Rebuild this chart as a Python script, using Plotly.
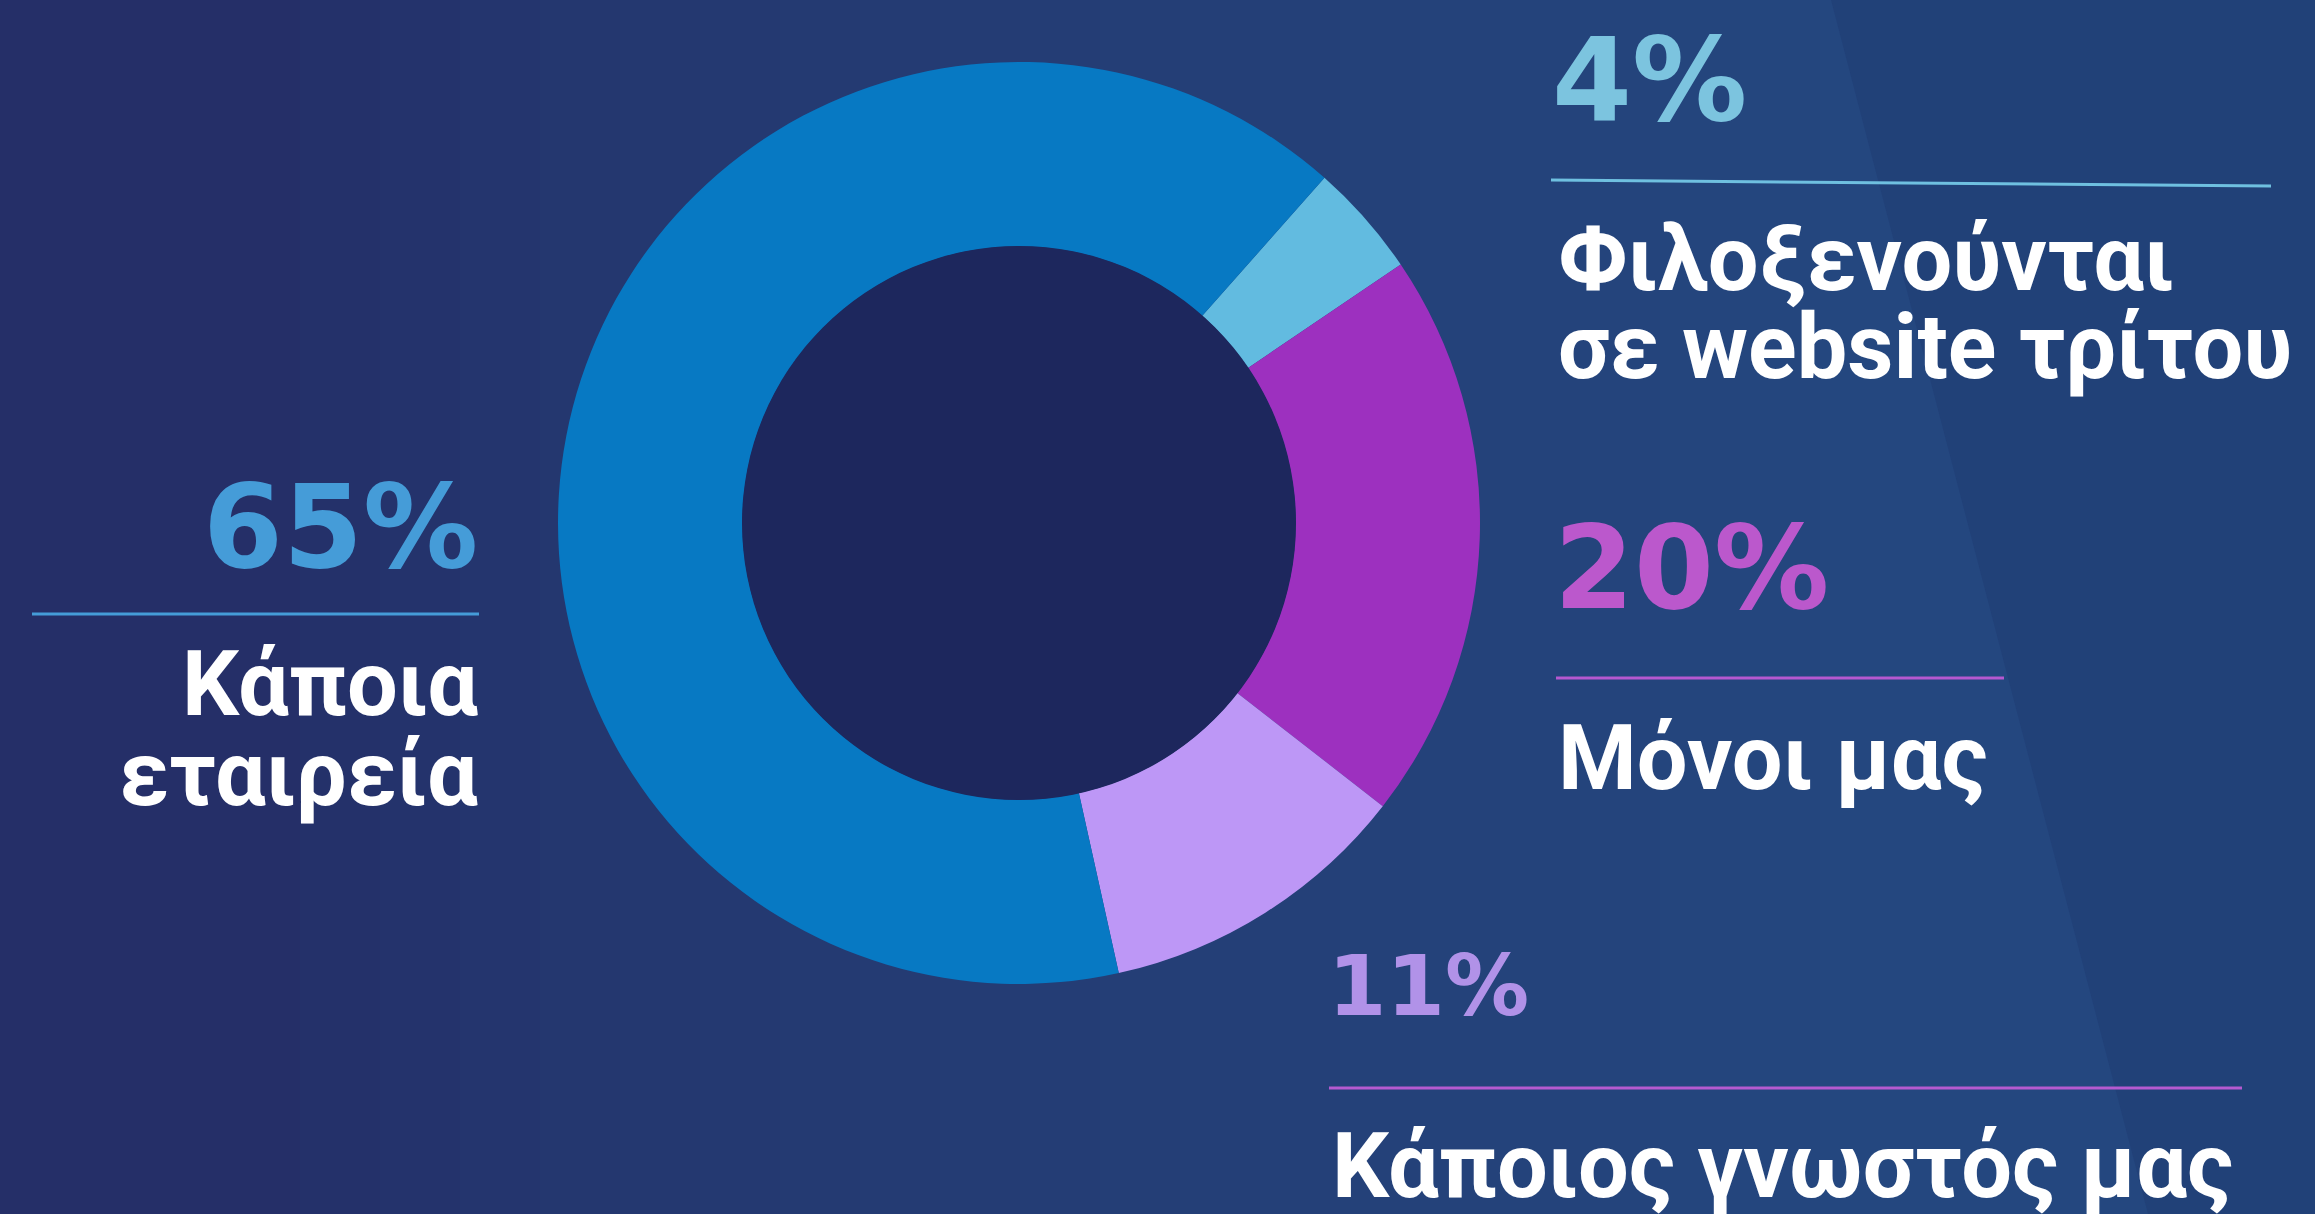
import plotly.graph_objects as go

W, H = 2315, 1214

# data
labels = ["Φιλοξενούνται σε website τρίτου", "Μόνοι μας", "Κάποιος γνωστός μας", "Κάποια εταιρεία"]
values = [4, 20, 11, 65]
slice_colors = ["#62bbe0", "#9d30bf", "#bd97f6", "#0779c3"]
pct_colors = ["#7cc4df", "#bb58cc", "#b192e8", "#459cd8"]
line_colors = ["#6fc0e0", "#b658d0", "#b55ad0", "#459cd8"]


def px(x):
    return x / W


def py(y):
    return 1 - y / H


fig = go.Figure()

fig.add_trace(go.Pie(
    labels=labels,
    values=values,
    sort=False,
    direction="clockwise",
    rotation=41.5,
    hole=0.6,
    marker=dict(colors=slice_colors, line=dict(width=0)),
    textinfo="none",
    hoverinfo="label+percent",
    showlegend=False,
    domain=dict(x=[px(558), px(1480)], y=[py(984), py(62)]),
))

pct_font = dict(family="DejaVu Sans", size=115, weight=700)
lab_font = dict(family="Roboto", size=90, weight=700, color="white")

annotations = []
shapes = []

# background: soft left-to-right lightening, darker band right of the diagonal
for i in range(20):
    x0 = 300 + i * 80
    shapes.append(dict(type="rect", xref="paper", yref="paper", layer="below",
                       x0=px(x0), x1=1, y0=0, y1=1,
                       fillcolor="rgba(37,82,142,0.055)", line=dict(width=0)))
shapes.append(dict(type="path", xref="paper", yref="paper", layer="below",
                   path=f"M {px(1831)},{py(0)} L 1,{py(0)} L 1,{py(1214)} L {px(2148)},{py(1214)} Z",
                   fillcolor="rgba(20,40,90,0.18)", line=dict(width=0)))

# hole fill
shapes.append(dict(type="circle", xref="paper", yref="paper",
                   x0=px(742), x1=px(1296), y0=py(800), y1=py(246),
                   fillcolor="#1d275d", line=dict(width=0)))

# 65% block (left, right-aligned)
annotations.append(dict(text=f"{values[3]}%", x=px(480), y=py(527), xanchor="right", yanchor="middle",
                        font=dict(pct_font, color=pct_colors[3])))
shapes.append(dict(type="line", xref="paper", yref="paper", x0=px(32), x1=px(479), y0=py(614), y1=py(614),
                   line=dict(color=line_colors[3], width=3)))
annotations.append(dict(text="Κάποια", x=px(480), y=py(684), xanchor="right", yanchor="middle", font=lab_font))
annotations.append(dict(text="εταιρεία", x=px(480), y=py(774), xanchor="right", yanchor="middle", font=lab_font))

# 4% block
annotations.append(dict(text=f"{values[0]}%", x=px(1550), y=py(80), xanchor="left", yanchor="middle",
                        font=dict(pct_font, color=pct_colors[0])))
shapes.append(dict(type="line", xref="paper", yref="paper", x0=px(1551), x1=px(2271), y0=py(180), y1=py(186),
                   line=dict(color=line_colors[0], width=3)))
annotations.append(dict(text="Φιλοξενούνται", x=px(1556), y=py(259), xanchor="left", yanchor="middle", font=lab_font))
annotations.append(dict(text="σε website τρίτου", x=px(1556), y=py(347), xanchor="left", yanchor="middle", font=lab_font))

# 20% block
annotations.append(dict(text=f"{values[1]}%", x=px(1552), y=py(568), xanchor="left", yanchor="middle",
                        font=dict(pct_font, color=pct_colors[1])))
shapes.append(dict(type="line", xref="paper", yref="paper", x0=px(1556), x1=px(2004), y0=py(678), y1=py(678),
                   line=dict(color=line_colors[1], width=3)))
annotations.append(dict(text="Μόνοι μας", x=px(1556), y=py(758), xanchor="left", yanchor="middle", font=lab_font))

# 11% block
annotations.append(dict(text=f"{values[2]}%", x=px(1326), y=py(986), xanchor="left", yanchor="middle",
                        font=dict(pct_font, size=84, color=pct_colors[2])))
shapes.append(dict(type="line", xref="paper", yref="paper", x0=px(1329), x1=px(2242), y0=py(1088), y1=py(1088),
                   line=dict(color=line_colors[2], width=3)))
annotations.append(dict(text="Κάποιος γνωστός μας", x=px(1330), y=py(1166), xanchor="left", yanchor="middle",
                        font=lab_font))

for a in annotations:
    a.update(xref="paper", yref="paper", showarrow=False)

fig.update_layout(
    width=W,
    height=H,
    margin=dict(l=0, r=0, t=0, b=0),
    paper_bgcolor="#252f68",
    plot_bgcolor="#252f68",
    annotations=annotations,
    shapes=shapes,
    showlegend=False,
)

fig.write_html("out.html", config={"displayModeBar": False},
               post_script="document.body.style.margin='0';")
